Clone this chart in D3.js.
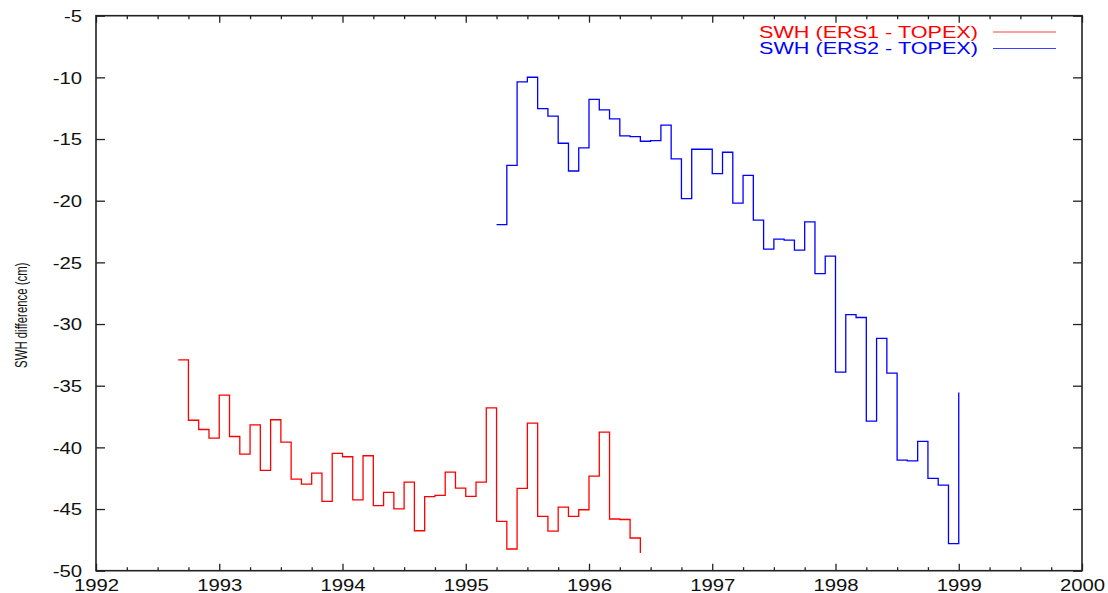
<!DOCTYPE html>
<html>
<head>
<meta charset="utf-8">
<script src="https://cdn.jsdelivr.net/npm/d3@7"></script>
<style>
  html, body { margin: 0; padding: 0; background: #fff; }
  svg { display: block; font-family: "Liberation Sans", Arial, sans-serif; }
</style>
</head>
<body>
<svg id="chart" width="1108" height="593"></svg>
<script>
// ---- data (monthly values, cm) ----
const ers1Label = "SWH (ERS1 - TOPEX)";
const ers2Label = "SWH (ERS2 - TOPEX)";
const ers1Start = [1992, 9];   // year, month of first value
const ers2Start = [1995, 4];
const ers1Values = [-32.9, -37.8, -38.55, -39.25, -35.77, -39.12, -40.55, -38.17, -41.87, -37.76,
  -39.57, -42.57, -42.98, -42.09, -44.38, -40.49, -40.76, -44.25, -40.68, -44.73,
  -43.65, -44.98, -42.82, -46.76, -44.0, -43.9, -42.0, -43.3, -43.98, -42.82,
  -36.79, -46.0, -48.24, -43.33, -38.03, -45.6, -46.79, -44.84, -45.6, -45.06,
  -42.33, -38.76, -45.81, -45.85, -47.35, -48.57];
const ers2Values = [-21.94, -17.13, -10.37, -9.99, -12.54, -13.15, -15.34, -17.59, -15.72, -11.78,
  -12.64, -13.37, -14.75, -14.8, -15.18, -15.13, -13.88, -16.61, -19.83, -15.83,
  -15.83, -17.8, -16.07, -20.2, -17.94, -21.58, -23.93, -23.12, -23.2, -24.0,
  -21.72, -25.91, -24.5, -33.9, -29.23, -29.47, -37.87, -31.17, -33.98, -41.03,
  -41.09, -39.52, -42.52, -43.06, -47.81, -35.55];
const xTicks = [1992, 1993, 1994, 1995, 1996, 1997, 1998, 1999, 2000];
const yTicks = [-50, -45, -40, -35, -30, -25, -20, -15, -10, -5];
const yLabel = "SWH difference (cm)";

// ---- layout ----
const W = 1108, H = 593;
const m = { left: 96, right: 26, top: 15.7, bottom: 22.3 };
const svg = d3.select("#chart");
const x = d3.scaleLinear().domain([1992, 2000]).range([m.left, W - m.right]);
const y = d3.scaleLinear().domain([-50, -5]).range([H - m.bottom, m.top]);
const STRETCH = 1.27;
const axisColor = "#222";

function stretchText(sel, factor) {
  sel.each(function() {
    const w = this.getComputedTextLength();
    d3.select(this).attr("textLength", w * factor).attr("lengthAdjust", "spacingAndGlyphs");
  });
}

const toSeries = (start, vals) => vals.map((v, i) => ({ t: start[0] + (start[1] - 1 + i) / 12, v }));
const s1 = toSeries(ers1Start, ers1Values);
const s2 = toSeries(ers2Start, ers2Values);

// minor x ticks every quarter year
const minorX = d3.range(0, 33).map(i => 1992 + i * 0.25).filter(d => !xTicks.includes(d));

// axes
const gB = svg.append("g").attr("transform", `translate(0,${y(-50)})`)
  .call(d3.axisBottom(x).tickValues(xTicks).tickSize(-7).tickFormat(d => String(d)));
const gBm = svg.append("g").attr("transform", `translate(0,${y(-50)})`)
  .call(d3.axisBottom(x).tickValues(minorX).tickSize(-3.5).tickFormat(""));
const gT = svg.append("g").attr("transform", `translate(0,${y(-5)})`)
  .call(d3.axisTop(x).tickValues(xTicks).tickSize(-7).tickFormat(""));
const gTm = svg.append("g").attr("transform", `translate(0,${y(-5)})`)
  .call(d3.axisTop(x).tickValues(minorX).tickSize(-3.5).tickFormat(""));
const gL = svg.append("g").attr("transform", `translate(${x(1992)},0)`)
  .call(d3.axisLeft(y).tickValues(yTicks).tickSize(-9).tickFormat(d => String(d)));
const gR = svg.append("g").attr("transform", `translate(${x(2000)},0)`)
  .call(d3.axisRight(y).tickValues(yTicks).tickSize(-9).tickFormat(""));

[gB, gBm, gT, gTm, gL, gR].forEach(g => {
  g.select(".domain").remove();
  g.selectAll(".tick line").attr("stroke", axisColor).attr("stroke-width", 1.3);
});
gB.selectAll(".tick text").attr("font-size", 16).attr("fill", "#111")
  .attr("dy", null).attr("y", 20.5);
gL.selectAll(".tick text").attr("font-size", 16).attr("fill", "#111").attr("x", -14).attr("dy", "0.36em");
stretchText(gB.selectAll(".tick text"), STRETCH);
stretchText(gL.selectAll(".tick text"), STRETCH);

// frame
svg.append("rect")
  .attr("x", x(1992)).attr("y", y(-5))
  .attr("width", x(2000) - x(1992)).attr("height", y(-50) - y(-5))
  .attr("fill", "none").attr("stroke", axisColor).attr("stroke-width", 1.6);

// y label (glyph height stretched like the rest of the picture)
svg.append("text")
  .attr("transform", `translate(27,${(y(-5) + y(-50)) / 2 + 22}) rotate(-90) scale(1,1.45)`)
  .attr("text-anchor", "middle").attr("font-size", 11.4).attr("fill", "#111")
  .text(yLabel);

// series
const line = d3.line().x(d => x(d.t)).y(d => y(d.v)).curve(d3.curveStepAfter);
svg.append("path").datum(s1).attr("d", line)
  .attr("fill", "none").attr("stroke", "#ff0000").attr("stroke-width", 1.3);
svg.append("path").datum(s2).attr("d", line)
  .attr("fill", "none").attr("stroke", "#0000ff").attr("stroke-width", 1.3);

// legend
const legend = [
  { label: ers1Label, color: "#ff0000", yy: 32 },
  { label: ers2Label, color: "#0000ff", yy: 48.5 }
];
const lg = svg.append("g");
legend.forEach(d => {
  lg.append("text").attr("x", 978).attr("y", d.yy).attr("dy", "0.36em")
    .attr("text-anchor", "end").attr("font-size", 16).attr("fill", d.color)
    .text(d.label).attr("textLength", 219).attr("lengthAdjust", "spacingAndGlyphs");
  lg.append("line").attr("x1", 993).attr("x2", 1056).attr("y1", d.yy).attr("y2", d.yy)
    .attr("stroke", d.color).attr("stroke-width", 1.2).attr("opacity", 0.75);
});
</script>
</body>
</html>
